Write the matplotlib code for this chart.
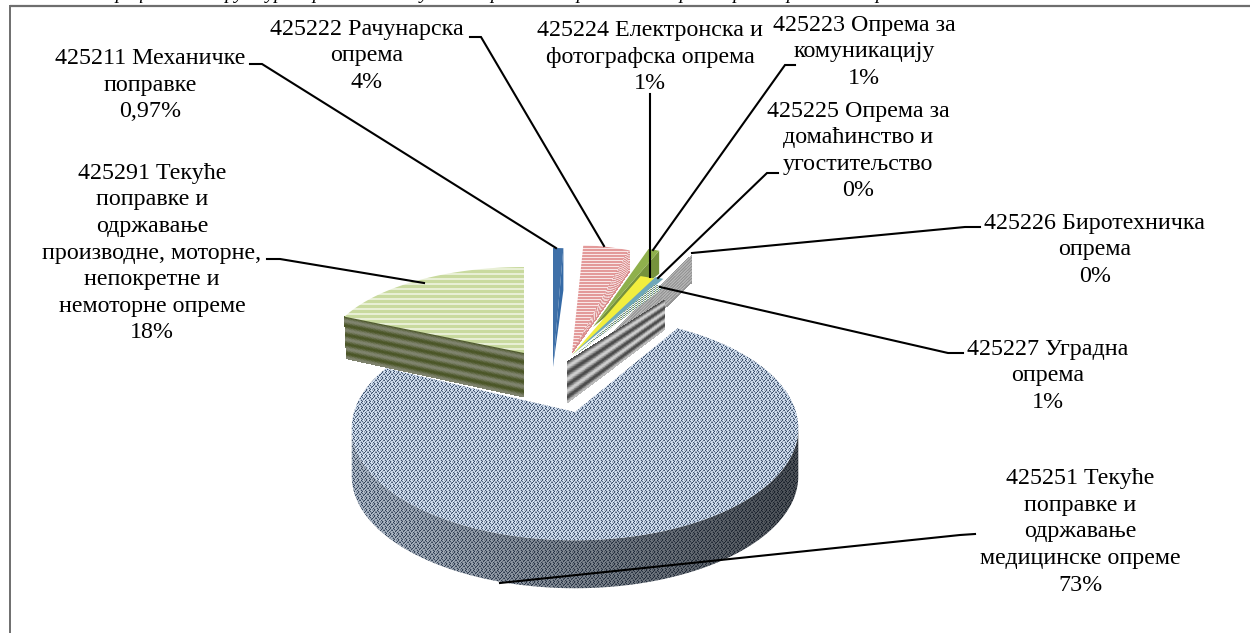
import numpy as np
import matplotlib
matplotlib.use("Agg")
import matplotlib.pyplot as plt
from matplotlib.patches import Polygon
from matplotlib.collections import PolyCollection

plt.rcParams['font.family'] = ['Liberation Serif', 'DejaVu Serif']

# ---------- data ----------
slice_codes = ['425211', '425222', '425223', '425224', '425225', '425226', '425227', '425251', '425291']
slice_shares = [0.97, 4.0, 1.0, 1.0, 0.3, 0.4, 1.0, 73.0, 18.0]
label_texts = [
    '425211 Механичке\nпоправке\n0,97%',
    '425222 Рачунарска\nопрема\n4%',
    '425223 Опрема за\nкомуникацију\n1%',
    '425224 Електронска и\nфотографска опрема\n1%',
    '425225 Опрема за\nдомаћинство и\nугоститељство\n0%',
    '425226 Биротехничка\nопрема\n0%',
    '425227 Уградна\nопрема\n1%',
    '425251 Текуће\nпоправке и\nодржавање\nмедицинске опреме\n73%',
    '425291 Текуће\nпоправке и\nодржавање\nпроизводне, моторне,\nнепокретне и\nнемоторне опреме\n18%',
]
clipped_title = 'Графикон: Структура трошкова текућих поправки и одржавања опреме према врстама опреме'

# ---------- layout (pixel canvas) ----------
W, H = 1250, 633
fig = plt.figure(figsize=(W / 100, H / 100), dpi=100)
ax = fig.add_axes([0, 0, 1, 1])
ax.axis('off')

shares = np.array(slice_shares)
edges = np.concatenate([[0], np.cumsum(shares)]) / shares.sum() * 360.0
ang = {c: (edges[i], edges[i + 1]) for i, c in enumerate(slice_codes)}


def flat(apex, rx, ry, deg):
    t = np.radians(deg)
    return np.column_stack([apex[0] + rx * np.sin(t), apex[1] - ry * np.cos(t)])


def persp(deg):
    """Main slice: a disc seen in perspective."""
    t = np.radians(deg)
    X, Y = np.sin(t), np.cos(t)
    d = 0.143 * Y + 1
    return np.column_stack([575 + 221 * X / d, (-51 * Y + 412) / d])


def tile_tex(tile):
    t = np.array(tile, dtype=float)
    r = (H // t.shape[0] + 1, W // t.shape[1] + 1) + (1,) * (t.ndim - 2)
    return np.tile(t, r)[:H, :W]


def textured(pts, tex, z):
    p = Polygon(pts, closed=True, fc='none', ec='none', transform=ax.transData)
    ax.add_patch(p)
    im = ax.imshow(tex, extent=(0, W, H, 0), interpolation='nearest', aspect='auto', zorder=z)
    im.set_clip_path(p)


def hstripes(c1, c2, n1, n2):
    c1 = np.array(matplotlib.colors.to_rgb(c1))
    c2 = np.array(matplotlib.colors.to_rgb(c2))
    return tile_tex(np.array([[c1]] * n1 + [[c2]] * n2))


def bands(tl, tr, br, bl, cols, cycles, z, n=60):
    tl, tr, br, bl = map(np.array, (tl, tr, br, bl))
    c1 = np.array(matplotlib.colors.to_rgb(cols[0]))
    c2 = np.array(matplotlib.colors.to_rgb(cols[1]))
    vs = np.linspace(0, 1, n + 1)
    quads, fc = [], []
    for a, b in zip(vs[:-1], vs[1:]):
        quads.append([tl + (bl - tl) * a, tr + (br - tr) * a, tr + (br - tr) * b, tl + (bl - tl) * b])
        m = 0.5 + 0.5 * np.cos(2 * np.pi * cycles * (a + b) / 2)
        fc.append(c1 * m + c2 * (1 - m))
    ax.add_collection(PolyCollection(quads, facecolors=fc, edgecolors='none', zorder=z, antialiased=False))


def arc(start, end, n=80):
    return np.linspace(start, end, n)


# weave textures for the main slice
weave = [[1.0, 0.1, 0.9, 1.0, 0.7, 0.8, 0.2, 0.9],
         [0.7, 0.8, 0.25, 0.9, 1.0, 0.15, 0.9, 0.7],
         [0.2, 1.0, 0.8, 0.6, 0.15, 0.9, 1.0, 0.3],
         [0.9, 0.7, 1.0, 0.15, 0.8, 1.0, 0.6, 0.9],
         [0.8, 0.2, 0.7, 0.9, 1.0, 0.2, 0.8, 1.0],
         [1.0, 0.8, 0.15, 1.0, 0.6, 0.9, 0.2, 0.7]]
dark, light = np.array([0.12, 0.20, 0.32]), np.array([0.86, 0.91, 0.97])
w = tile_tex(weave)[..., None]
main_tex = dark * (1 - w) + light * w
shade = np.interp(np.arange(W), [350, 560, 800], [0.85, 0.62, 0.36])[None, :, None]
wall_tex = main_tex * shade

# --- 425291 (left slice) ---
a0, a1 = ang['425291']
ap = (524, 353)
rx, ry = 198, 86
p_start = flat(ap, rx, ry, [a0])[0]
bands(p_start, ap, (ap[0], ap[1] + 44), (p_start[0] + 2, p_start[1] + 42),
      ('#4a5526', '#80846f'), 4.5, 3)
textured(np.vstack([[ap], flat(ap, rx, ry, arc(a0, a1))]), hstripes('#c9da9f', '#e8efd5', 3, 2), 4)

# --- 425211 (blue) ---
a0, a1 = ang['425211']
ap = (553, 367)
pts = flat(ap, 170, 119, arc(a0, a1, 6))
ax.add_patch(Polygon([ap, pts[-1], pts[-1] + [0, 42]], fc='#356aa6', ec='none', zorder=5))
ax.add_patch(Polygon(np.vstack([[ap], pts]), fc='#3f70a8', ec='none', zorder=6))

# --- 425222 (pink) ---
a0, a1 = ang['425222']
ap = (572, 353)
pts = flat(ap, 185, 108, arc(a0, a1, 12))
textured(np.vstack([[ap], pts]), hstripes('#e39a9a', '#f8e6e6', 2, 1), 5)
bands(ap, pts[-1], pts[-1] + [0, 22], ap, ('#d98c8c', '#f6dede'), 9, 6)

# --- 425226 (grey wall) ---
a0, a1 = ang['425226']
ap = (572, 372)
e = flat(ap, 258, 132, [a1])[0]
bands((ap[0], ap[1]), e, e + [0, 27], (ap[0], ap[1] + 25), ('#939393', '#b8b8b8'), 9, 7)

# --- 425223 (green) ---
a0, a1 = ang['425223']
ap = (593, 327)
pts = flat(ap, 180, 82, arc(a0, a1, 6))
ax.add_patch(Polygon([ap, pts[-1], pts[-1] + [0, 23]], fc='#76923c', ec='none', zorder=8))
ax.add_patch(Polygon(np.vstack([[ap], pts]), fc='#8fb04c', ec='none', zorder=9))

# --- 425224 (yellow) ---
a0, a1 = ang['425224']
ap = (572, 355)
pts = flat(ap, 200, 84, arc(a0 - 1.5, a1, 6))
ax.add_patch(Polygon(np.vstack([[ap], pts]), fc='#f2ee3e', ec='none', zorder=10))

# --- 425225 (teal) ---
a0, a1 = ang['425225']
pts = flat(ap, 196, 86, arc(a0, a1 + 1.5, 4))
ax.add_patch(Polygon(np.vstack([[ap], pts]), fc='#6fa8b8', ec='none', zorder=11))

# --- 425227 (dotted + striped wall) ---
a0, a1 = ang['425227']
ap = (573, 357)
pts = flat(ap, 176, 82, arc(a0, a1, 6))
bands((567, 362), (665, 300), (665, 329), (567, 403), ('#4a4a4a', '#d0d0d0'), 3.4, 12)
dots = np.tile(np.array([[[.97, .97, .95], [.45, .62, .62], [.9, .9, .82]],
                         [[.4, .5, .5], [.95, .95, .95], [.55, .7, .5]]]), (H // 2 + 1, W // 3 + 1, 1))[:H, :W]
textured(np.vstack([[ap], pts]), dots, 13)

# --- 425251 (main slice) ---
a0, a1 = ang['425251']
deg = arc(a0, a1, 300)
rim = persp(deg)
i_right, i_left = np.argmax(rim[:, 0]), np.argmin(rim[:, 0])
front = rim[i_right:i_left + 1]
textured(np.vstack([front, (front + [0, 48])[::-1]]), wall_tex, 14)
textured(np.vstack([[(575, 412)], rim]), main_tex, 15)

# ---------- frame ----------
ax.plot([10, 1250], [5.5, 5.5], color='#6e6e6e', lw=1.6, zorder=1, solid_capstyle='butt')
ax.plot([10, 10], [5, 633], color='#6e6e6e', lw=1.4, zorder=1, solid_capstyle='butt')

# ---------- leaders ----------
leaders = [
    [(250, 64), (262, 64), (556, 248)],
    [(470, 37), (481, 37), (604, 246)],
    [(650, 94), (650, 277)],
    [(795, 65), (785, 65), (653, 250)],
    [(778, 173), (767, 173), (658, 278)],
    [(980, 227), (965, 227), (692, 253)],
    [(963, 353), (948, 353), (660, 287)],
    [(975, 534), (960, 535), (500, 583)],
    [(267, 259), (280, 259), (424, 283)],
]
for L in leaders:
    L = np.array(L)
    ax.plot(L[:, 0], L[:, 1], color='black', lw=1.5, zorder=20, solid_joinstyle='miter')

# ---------- labels ----------
label_pos = [(150, 85), (367, 56), (864, 52), (650, 57), (858, 151), (1095, 250), (1048, 376), (1080, 532), (152, 253)]
for txt, (x, y) in zip(label_texts, label_pos):
    ax.text(x, y, txt, ha='center', va='center', fontsize=17.3, linespacing=1.35, color='black', zorder=21)

ax.text(105, -5.5, clipped_title, ha='left', va='center', fontsize=14, style='italic', color='black', zorder=21)

ax.set_xlim(0, W)
ax.set_ylim(H, 0)
fig.savefig('out.png', dpi=100, facecolor='white')
